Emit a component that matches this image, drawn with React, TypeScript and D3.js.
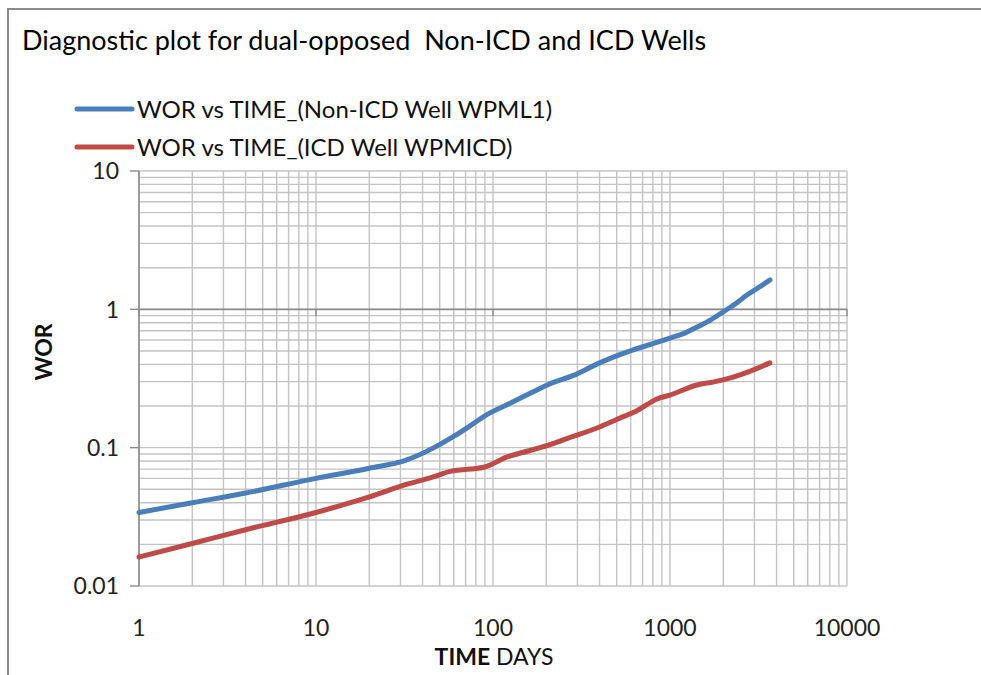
import { useEffect, useRef } from "react";
import * as d3 from "d3";

const title = "Diagnostic plot for dual-opposed  Non-ICD and ICD Wells";
const seriesNames = ["WOR vs TIME_(Non-ICD Well WPML1)", "WOR vs TIME_(ICD Well WPMICD)"];
const seriesColors = ["#4a7ebb", "#be4b48"];

const nonIcdTime = [1, 2, 4, 10, 20, 32, 45, 59, 75, 90, 120, 160, 210, 280, 400, 520, 620, 800, 1000, 1200, 1420, 1700, 2000, 2400, 2720, 3200, 3670];
const nonIcdWor = [0.034, 0.04, 0.047, 0.06, 0.071, 0.081, 0.098, 0.119, 0.145, 0.17, 0.204, 0.245, 0.29, 0.33, 0.41, 0.47, 0.51, 0.565, 0.62, 0.67, 0.745, 0.84, 0.96, 1.12, 1.27, 1.45, 1.63];

const icdTime = [1, 2, 4, 10, 20, 32, 45, 59, 75, 90, 120, 160, 210, 280, 400, 500, 650, 844, 1000, 1420, 1800, 2270, 2800, 3670];
const icdWor = [0.0162, 0.0203, 0.0255, 0.034, 0.044, 0.054, 0.061, 0.068, 0.07, 0.0725, 0.0857, 0.095, 0.105, 0.12, 0.141, 0.16, 0.185, 0.225, 0.24, 0.284, 0.3, 0.324, 0.355, 0.41];

const xTicks = [1, 10, 100, 1000, 10000];
const yTicks = [0.01, 0.1, 1, 10];

const FONT = "Lato, 'Open Sans', sans-serif";

const App = () => {
  const svgRef = useRef<SVGSVGElement>(null);
  const width = 981;
  const height = 675;
  const margin = { top: 171, right: 134, bottom: 89, left: 139 };
  const innerWidth = width - margin.left - margin.right;
  const innerHeight = height - margin.top - margin.bottom;

  useEffect(() => {
    const svg = d3.select(svgRef.current);
    svg.selectAll("*").remove();

    svg.append("rect").attr("width", width).attr("height", height).attr("fill", "#fff");
    // outer chart frame
    svg
      .append("path")
      .attr("d", `M8,${height + 5}V9H${width + 5}`)
      .attr("fill", "none")
      .attr("stroke", "#8c8c8c")
      .attr("stroke-width", 2);

    svg
      .append("text")
      .attr("x", 22)
      .attr("y", 50)
      .attr("font-family", FONT)
      .attr("font-size", 27)
      .attr("fill", "#000")
      .style("white-space", "pre")
      .text(title);

    const x = d3.scaleLog().domain([1, 10000]).range([0, innerWidth]);
    const y = d3.scaleLog().domain([0.01, 10]).range([innerHeight, 0]);

    const g = svg.append("g").attr("transform", `translate(${margin.left},${margin.top})`);

    const minor = (lo: number, hi: number) => {
      const out: number[] = [];
      for (let d = lo; d < hi; d *= 10) for (let k = 1; k <= 9; k++) out.push(d * k);
      out.push(hi);
      return out;
    };

    g.append("g")
      .selectAll("line")
      .data(minor(1, 10000))
      .enter()
      .append("line")
      .attr("x1", (d) => x(d))
      .attr("x2", (d) => x(d))
      .attr("y1", 0)
      .attr("y2", innerHeight)
      .attr("stroke", "#c4c4c4")
      .attr("stroke-width", 1.4);

    g.append("g")
      .selectAll("line")
      .data(minor(0.01, 10))
      .enter()
      .append("line")
      .attr("x1", 0)
      .attr("x2", innerWidth)
      .attr("y1", (d) => y(d))
      .attr("y2", (d) => y(d))
      .attr("stroke", "#c4c4c4")
      .attr("stroke-width", 1.4);

    // horizontal axis crosses at WOR = 1
    g.append("line")
      .attr("x1", 0)
      .attr("x2", innerWidth)
      .attr("y1", y(1))
      .attr("y2", y(1))
      .attr("stroke", "#8c8c8c")
      .attr("stroke-width", 1.6);
    g.append("g")
      .selectAll("line")
      .data(xTicks)
      .enter()
      .append("line")
      .attr("x1", (d) => x(d))
      .attr("x2", (d) => x(d))
      .attr("y1", y(1))
      .attr("y2", y(1) + 7)
      .attr("stroke", "#8c8c8c")
      .attr("stroke-width", 1.4);

    // vertical axis
    g.append("line")
      .attr("x1", 0)
      .attr("x2", 0)
      .attr("y1", 0)
      .attr("y2", innerHeight)
      .attr("stroke", "#8c8c8c")
      .attr("stroke-width", 1.6);
    g.append("g")
      .selectAll("line")
      .data(yTicks)
      .enter()
      .append("line")
      .attr("x1", -9)
      .attr("x2", 0)
      .attr("y1", (d) => y(d))
      .attr("y2", (d) => y(d))
      .attr("stroke", "#8c8c8c")
      .attr("stroke-width", 1.4);

    g.append("g")
      .selectAll("text")
      .data(yTicks)
      .enter()
      .append("text")
      .attr("x", -20)
      .attr("y", (d) => y(d))
      .attr("dy", "0.36em")
      .attr("text-anchor", "end")
      .attr("font-family", FONT)
      .attr("font-size", 23)
      .attr("fill", "#222")
      .text((d) => String(d));

    g.append("g")
      .selectAll("text")
      .data(xTicks)
      .enter()
      .append("text")
      .attr("x", (d) => x(d))
      .attr("y", innerHeight + 50)
      .attr("text-anchor", "middle")
      .attr("font-family", FONT)
      .attr("font-size", 23)
      .attr("fill", "#222")
      .text((d) => String(d));

    const xLabel = svg
      .append("text")
      .attr("x", margin.left + innerWidth / 2 + 1)
      .attr("y", 665)
      .attr("text-anchor", "middle")
      .attr("font-family", FONT)
      .attr("font-size", 23)
      .attr("fill", "#111");
    xLabel.append("tspan").attr("font-weight", "bold").text("TIME");
    xLabel.append("tspan").text(" DAYS");

    svg
      .append("text")
      .attr("transform", `translate(52,352) rotate(-90)`)
      .attr("text-anchor", "middle")
      .attr("font-family", FONT)
      .attr("font-size", 23)
      .attr("font-weight", "bold")
      .attr("fill", "#111")
      .text("WOR");

    const line = d3
      .line<[number, number]>()
      .x((d) => x(d[0]))
      .y((d) => y(d[1]))
      .curve(d3.curveMonotoneX);

    const series: [number, number][][] = [
      nonIcdTime.map((t, i) => [t, nonIcdWor[i]]),
      icdTime.map((t, i) => [t, icdWor[i]]),
    ];

    series.forEach((s, i) => {
      g.append("path")
        .datum(s)
        .attr("d", line)
        .attr("fill", "none")
        .attr("stroke", seriesColors[i])
        .attr("stroke-width", 5)
        .attr("stroke-linecap", "round")
        .attr("stroke-linejoin", "round");
    });

    // legend
    const legend = svg.append("g");
    seriesNames.forEach((name, i) => {
      const ly = 109 + i * 38;
      legend
        .append("line")
        .attr("x1", 77)
        .attr("x2", 132)
        .attr("y1", ly)
        .attr("y2", ly)
        .attr("stroke", seriesColors[i])
        .attr("stroke-width", 5)
        .attr("stroke-linecap", "round");
      legend
        .append("text")
        .attr("x", 137)
        .attr("y", ly + 9)
        .attr("font-family", FONT)
        .attr("font-size", 24)
        .attr("fill", "#111")
        .text(name);
    });
  }, []);

  return (
    <svg
      ref={svgRef}
      width={width}
      height={height}
      style={{ position: "absolute", left: 0, top: 0 }}
    ></svg>
  );
};

export default App;
